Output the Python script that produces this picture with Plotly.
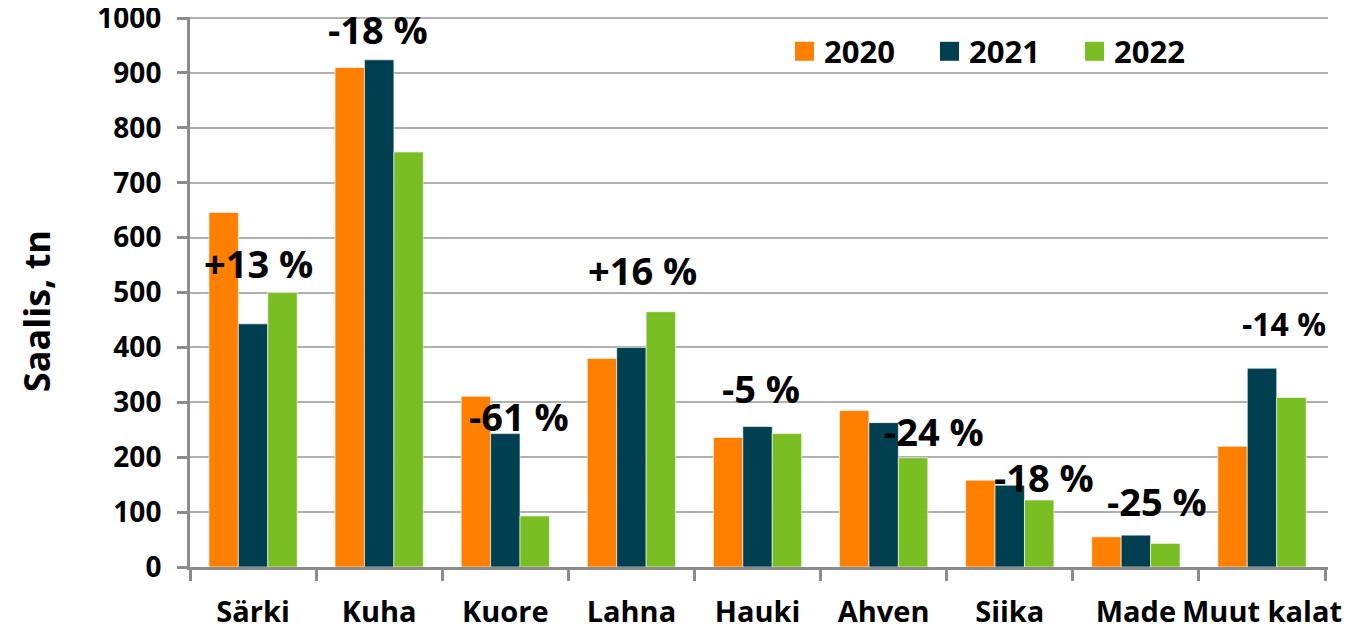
import plotly.graph_objects as go

categories = ["Särki", "Kuha", "Kuore", "Lahna", "Hauki", "Ahven", "Siika", "Made", "Muut kalat"]
years = ["2020", "2021", "2022"]
v2020 = [646, 910, 311, 380, 236, 285, 158, 55, 220]
v2021 = [443, 924, 243, 400, 256, 263, 149, 58, 362]
v2022 = [500, 756, 93, 465, 243, 199, 122, 43, 309]
change_labels = ["+13 %", "-18 %", "-61 %", "+16 %", "-5 %", "-24 %", "-18 %", "-25 %", "-14 %"]
y_ticks = [0, 100, 200, 300, 400, 500, 600, 700, 800, 900, 1000]
y_title = "Saalis, tn"

colors = ["#FF8000", "#003F4F", "#79BE22"]
FONT = "Open Sans"

# label placement (style): x shift in px and y position in data units
label_xshift = [5, -1, 14, 11, 3, 50, 34, 21, 22]
label_y = [553, 981, 276, 542, 326, 248, 164, 121, 443]
label_size = [38, 38, 38, 38, 38, 38, 38, 38, 32]

fig = go.Figure()
for name, vals, col in zip(years, [v2020, v2021, v2022], colors):
    fig.add_trace(go.Bar(x=categories, y=vals, name=name, marker_color=col,
                         marker_line_color="white", marker_line_width=0.6,
                         showlegend=False))

for cat, txt, xs, yy, fs in zip(categories, change_labels, label_xshift, label_y, label_size):
    fig.add_annotation(x=cat, y=yy, text=f"<b>{txt}</b>", showarrow=False,
                       xshift=xs, xanchor="center", yanchor="middle",
                       font=dict(family=FONT, size=fs, color="black"))

# page geometry (page pixels); the page body adds an 8 px offset
OFF = 8
PW, PH = 1360, 629
L, R, T, B = 190, 1328, 16.7, 567
W, H = R - L, B - T
def px2paper(px, py):
    return (px - L) / W, (B - py) / H

leg_x = [795, 940, 1085]
for name, col, lx in zip(years, colors, leg_x):
    x0, y0 = px2paper(lx, 60.5)
    x1, y1 = px2paper(lx + 19, 41.5)
    fig.add_shape(type="rect", xref="paper", yref="paper", x0=x0, x1=x1, y0=y0, y1=y1,
                  fillcolor=col, line_width=0)
    tx, ty = px2paper(lx + 27, 51)
    fig.add_annotation(xref="paper", yref="paper", x=tx, y=ty, text=f"<b>{name}</b>",
                       showarrow=False, xanchor="left", yanchor="middle",
                       font=dict(family=FONT, size=31, color="black"))

# y-axis title as rotated text
ttx, tty = px2paper(36, 311)
fig.add_annotation(xref="paper", yref="paper", x=ttx, y=tty, text=f"<b>{y_title}</b>",
                   textangle=-90, showarrow=False, xanchor="center", yanchor="middle",
                   font=dict(family=FONT, size=36, color="black"))

fig.update_layout(
    width=PW - OFF, height=PH - OFF,
    margin=dict(l=L - OFF, r=PW - R, t=T - OFF, b=PH - B, autoexpand=False),
    paper_bgcolor="white", plot_bgcolor="white",
    barmode="group", bargap=0.30, bargroupgap=0,
    font=dict(family=FONT, color="black"),
)
fig.update_xaxes(
    type="category", showline=True, linecolor="#8C8C8C", linewidth=3,
    ticks="outside", tickson="boundaries", ticklen=11, tickwidth=3, tickcolor="#8C8C8C",
    tickangle=0, ticklabelstandoff=17, automargin=False, ticklabeloverflow="allow",
    tickfont=dict(family=FONT, size=29, color="black", weight="bold"),
    showgrid=False,
)
fig.update_yaxes(
    range=[0, 1002], tickvals=y_ticks, ticktext=[str(t) for t in y_ticks],
    showline=True, linecolor="#8C8C8C", linewidth=3,
    ticks="outside", ticklen=10, tickwidth=3, tickcolor="#8C8C8C",
    ticklabelstandoff=10, automargin=False, ticklabeloverflow="allow",
    tickfont=dict(family=FONT, size=28, color="black", weight="bold"),
    showgrid=True, gridcolor="#B0B0B0", gridwidth=1.5, zeroline=False,
)

fig.write_html("out.html")
